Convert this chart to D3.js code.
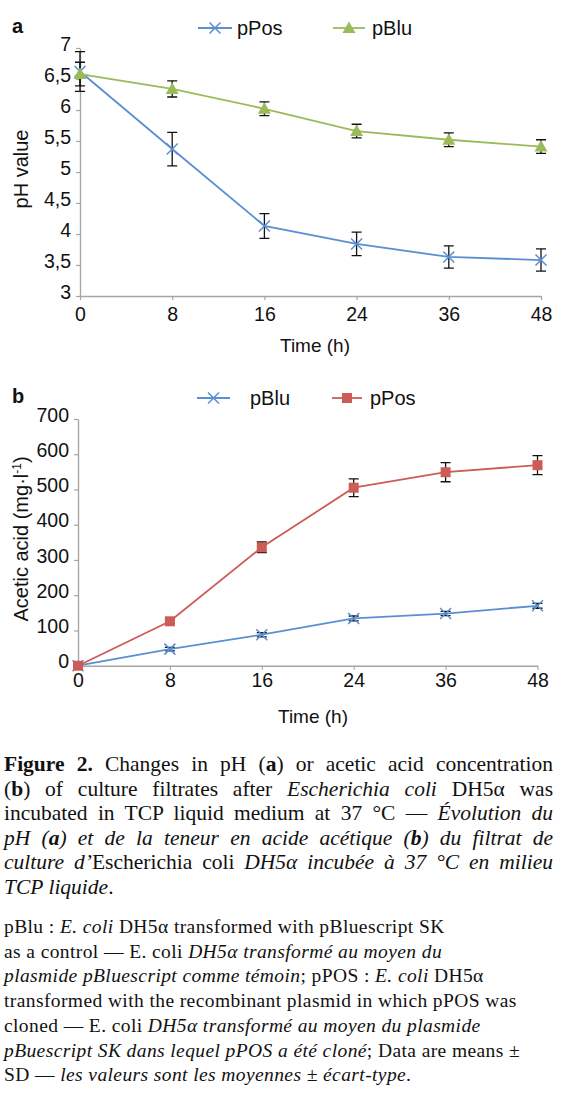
<!DOCTYPE html>
<html>
<head>
<meta charset="utf-8">
<script src="https://cdn.jsdelivr.net/npm/d3@7"></script>
<style>
  html, body { margin: 0; padding: 0; background: #fff; }
  #wrap { position: relative; width: 567px; height: 1096px; overflow: hidden; }
  svg { position: absolute; left: 0; top: 0; }
  .cap { position: absolute; left: 4px; width: 549px; font-family: "Liberation Serif", "Times New Roman", serif; color: #111; }
  .cap div { white-space: normal; }
  .just { text-align: justify; text-align-last: justify; }
  .notes div { white-space: nowrap; }
</style>
</head>
<body>
<div id="wrap"></div>
<script>
// ---------- data ----------
const timeLabels = ["0", "8", "16", "24", "36", "48"];

// panel a: pH
const phPos   = [6.62, 5.37, 4.13, 3.84, 3.63, 3.58];
const phPosSD = [0.32, 0.27, 0.20, 0.19, 0.18, 0.18];
const phBlu   = [6.58, 6.34, 6.02, 5.66, 5.52, 5.41];
const phBluSD = [0.19, 0.13, 0.11, 0.11, 0.11, 0.11];
const phTicks = [3, 3.5, 4, 4.5, 5, 5.5, 6, 6.5, 7];

// panel b: acetic acid (mg/l)
const acidBlu   = [0, 47, 88, 134, 148, 170];
const acidBluSD = [0, 5, 6, 7, 6, 7];
const acidPos   = [0, 126, 336, 505, 549, 569];
const acidPosSD = [0, 6, 15, 25, 27, 27];
const acidTicks = [0, 100, 200, 300, 400, 500, 600, 700];

// ---------- styles ----------
const BLUE = "#5a8fd2", GREEN = "#9bbb59", RED = "#cd5c57", AXIS = "#a6a6a6";
const SANS = "'Liberation Sans', Arial, sans-serif";

const svg = d3.select("#wrap").append("svg").attr("width", 567).attr("height", 1096);

function crossPath(s) { return `M${-s},${-s}L${s},${s}M${-s},${s}L${s},${-s}`; }

function panel(opts) {
  const g = svg.append("g");
  const x = d3.scalePoint().domain(timeLabels).range(opts.xRange).padding(0);
  const y = d3.scaleLinear().domain(opts.yDomain).range(opts.yRange);

  // axes
  const xa = g.append("g").attr("transform", `translate(0,${opts.yRange[0]})`)
    .call(d3.axisBottom(x).tickSize(4).tickSizeOuter(0));
  xa.selectAll("text").attr("dy", null).attr("y", opts.xLabelDy)
    .style("font-family", SANS).style("font-size", "19.5px").attr("fill", "#111");
  const ya = g.append("g").attr("transform", `translate(${opts.xRange[0]},0)`)
    .call(d3.axisLeft(y).tickValues(opts.yTicks).tickSize(4).tickSizeOuter(0)
      .tickFormat(opts.fmt));
  ya.selectAll("text").attr("x", -9).attr("y", -4)
    .style("font-family", SANS).style("font-size", "19.5px").attr("fill", "#111");
  [xa, ya].forEach(a => {
    a.select(".domain").attr("stroke", AXIS).attr("stroke-width", 1.4);
    a.selectAll(".tick line").attr("stroke", AXIS).attr("stroke-width", 1.2);
  });

  // axis titles
  g.append("text").attr("x", opts.xTitle[0]).attr("y", opts.xTitle[1])
    .attr("text-anchor", "middle").style("font-family", SANS).style("font-size", "19px")
    .attr("fill", "#111").text("Time (h)");
  const yt = g.append("text")
    .attr("transform", `translate(${opts.yTitle[0]},${opts.yTitle[1]}) rotate(-90)`)
    .attr("text-anchor", "middle").style("font-family", SANS).style("font-size", "20px")
    .attr("fill", "#111");
  opts.yTitleFn(yt);

  // panel letter
  g.append("text").attr("x", 12).attr("y", opts.letterY)
    .style("font-family", SANS).style("font-size", "20px").style("font-weight", "bold")
    .attr("fill", "#111").text(opts.letter);

  // series: error bars first
  opts.series.forEach(s => {
    const pts = timeLabels.map((t, i) => ({ t, v: s.values[i], sd: s.sd[i] }));
    const eb = g.append("g").attr("stroke", "#111").attr("stroke-width", 1.3).attr("fill", "none");
    pts.filter(p => p.sd > 0).forEach(p => {
      const cx = x(p.t), y1 = y(p.v + p.sd), y2 = y(p.v - p.sd);
      eb.append("path").attr("d", `M${cx},${y1}L${cx},${y2}M${cx - 5},${y1}L${cx + 5},${y1}M${cx - 5},${y2}L${cx + 5},${y2}`);
    });
  });
  opts.series.forEach(s => {
    const pts = timeLabels.map((t, i) => ({ t, v: s.values[i] }));
    g.append("path").datum(pts)
      .attr("d", d3.line().x(p => x(p.t)).y(p => y(p.v)))
      .attr("fill", "none").attr("stroke", s.color).attr("stroke-width", 1.8);
    drawMarkers(g, pts.map(p => [x(p.t), y(p.v)]), s);
  });

  // legend
  opts.series.forEach(s => {
    const L = s.legend;
    g.append("line").attr("x1", L.x1).attr("x2", L.x2).attr("y1", L.y).attr("y2", L.y)
      .attr("stroke", s.color).attr("stroke-width", 1.8);
    drawMarkers(g, [[(L.x1 + L.x2) / 2, L.y]], s);
    g.append("text").attr("x", L.tx).attr("y", L.y + 7)
      .style("font-family", SANS).style("font-size", "20px").attr("fill", "#111").text(s.name);
  });
}

function drawMarkers(g, pts, s) {
  pts.forEach(([cx, cy]) => {
    if (s.marker === "cross") {
      g.append("path").attr("d", crossPath(5.5)).attr("transform", `translate(${cx},${cy})`)
        .attr("stroke", s.color).attr("stroke-width", 1.5).attr("fill", "none");
    } else if (s.marker === "triangle") {
      g.append("path").attr("d", "M0,-6.5L6.5,5L-6.5,5Z").attr("transform", `translate(${cx},${cy})`)
        .attr("fill", s.color);
    } else {
      g.append("rect").attr("x", cx - 5).attr("y", cy - 5).attr("width", 10).attr("height", 10)
        .attr("fill", s.color);
    }
  });
}

const commaFmt = v => String(v).replace(".", ",");

panel({
  letter: "a", letterY: 33,
  xRange: [80, 541], yDomain: [3, 7], yRange: [296, 48], yTicks: phTicks, fmt: commaFmt,
  xLabelDy: 25, xTitle: [315, 352], yTitle: [28, 169],
  yTitleFn: t => t.text("pH value"),
  series: [
    { name: "pPos", values: phPos, sd: phPosSD, color: BLUE, marker: "cross",
      legend: { x1: 198, x2: 232, y: 28, tx: 237 } },
    { name: "pBlu", values: phBlu, sd: phBluSD, color: GREEN, marker: "triangle",
      legend: { x1: 333, x2: 365, y: 28, tx: 372 } }
  ]
});

panel({
  letter: "b", letterY: 403,
  xRange: [78, 537.5], yDomain: [0, 700], yRange: [665.7, 419], yTicks: acidTicks, fmt: d3.format("d"),
  xLabelDy: 21, xTitle: [313, 723], yTitle: [28, 539],
  yTitleFn: t => {
    t.append("tspan").text("Acetic acid (mg·l");
    t.append("tspan").attr("dy", -7).style("font-size", "12px").text("-1");
    t.append("tspan").attr("dy", 7).text(")");
  },
  series: [
    { name: "pBlu", values: acidBlu, sd: acidBluSD, color: BLUE, marker: "cross",
      legend: { x1: 197, x2: 230, y: 398, tx: 250 } },
    { name: "pPos", values: acidPos, sd: acidPosSD, color: RED, marker: "square",
      legend: { x1: 332, x2: 362, y: 398, tx: 370 } }
  ]
});

// ---------- caption ----------
const captionLines = [
  "<b>Figure 2.</b> Changes in pH (<b>a</b>) or acetic acid concentration",
  "(<b>b</b>) of culture filtrates after <i>Escherichia coli</i> DH5α was",
  "incubated in TCP liquid medium at 37 °C — <i>Évolution du</i>",
  "<i>pH (<b>a</b>) et de la teneur en acide acétique (<b>b</b>) du filtrat de</i>",
  "<i>culture d’</i>Escherichia coli <i>DH5α incubée à 37 °C en milieu</i>",
  "<i>TCP liquide</i>."
];
const noteLines = [
  "pBlu : <i>E. coli</i> DH5α transformed with pBluescript SK",
  "as a control — E. coli <i>DH5α transformé au moyen du</i>",
  "<i>plasmide pBluescript comme témoin</i>; pPOS : <i>E. coli</i> DH5α",
  "transformed with the recombinant plasmid in which pPOS was",
  "cloned — E. coli <i>DH5α transformé au moyen du plasmide</i>",
  "<i>pBuescript SK dans lequel pPOS a été cloné</i>; Data are means ±",
  "SD — <i>les valeurs sont les moyennes ± écart-type</i>."
];

const cap = d3.select("#wrap").append("div").attr("class", "cap")
  .style("top", "752px").style("font-size", "21.5px").style("line-height", "24.5px");
cap.selectAll("div").data(captionLines).join("div")
  .attr("class", (d, i) => i < captionLines.length - 1 ? "just" : null)
  .html(d => d);

const notes = d3.select("#wrap").append("div").attr("class", "cap notes")
  .style("top", "915px").style("font-size", "19.5px").style("letter-spacing", "0.4px")
  .style("line-height", "24.7px");
notes.selectAll("div").data(noteLines).join("div").html(d => d);
</script>
</body>
</html>
